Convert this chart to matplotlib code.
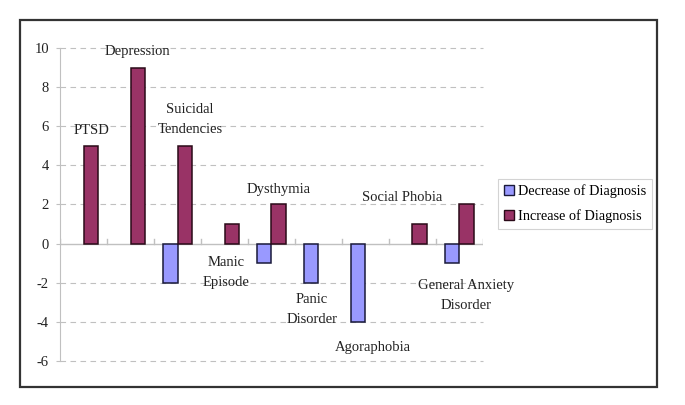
import matplotlib
matplotlib.use("Agg")
import matplotlib.pyplot as plt
from matplotlib.patches import Rectangle
from matplotlib.lines import Line2D
import numpy as np

plt.rcParams['font.family'] = ['Liberation Serif', 'DejaVu Serif']
plt.rcParams['axes.unicode_minus'] = False

# data
categories = ["PTSD", "Depression", "Suicidal\nTendencies", "Manic\nEpisode", "Dysthymia",
              "Panic\nDisorder", "Agoraphobia", "Social Phobia", "General Anxiety\nDisorder"]
decrease = [0, 0, -2, 0, -1, -2, -4, 0, -1]
increase = [5, 9, 5, 1, 2, 0, 0, 1, 2]
# where each category name sits (data coords)
label_x = [0.17, 1.14, 2.27, 3.03, 4.16, 4.86, 6.16, 6.78, 8.14]
label_y = [5.8, 9.8, 6.33, -1.48, 2.76, -3.37, -5.3, 2.35, -2.65]

dec_color = '#9999ff'
inc_color = '#993366'
grid_color = '#c0c0c0'

fig = plt.figure(figsize=(6.85, 4.05), dpi=100)
ax = fig.add_axes([0.0876, 0.1086, 0.6175, 0.773])

x = np.arange(len(categories))
w = 0.31
for i in x:
    if decrease[i] != 0:
        ax.bar(i - w / 2, decrease[i], w, color=dec_color, edgecolor='#1a1a3a', linewidth=1.1, zorder=3)
    if increase[i] != 0:
        ax.bar(i + w / 2, increase[i], w, color=inc_color, edgecolor='#2a0a18', linewidth=1.1, zorder=3)

for i, name in enumerate(categories):
    ax.text(label_x[i], label_y[i], name, ha='center', va='center', fontsize=10.5,
            color='#222222', linespacing=1.7, zorder=4)

ax.set_xlim(-0.5, len(categories) - 0.5)
ax.set_ylim(-6, 10)
ax.set_yticks(range(-6, 11, 2))
ax.set_xticks([])
for yv in range(-6, 11, 2):
    if yv != 0:
        ax.axhline(yv, color=grid_color, linestyle=(0, (5, 4)), linewidth=0.8, zorder=1, clip_on=False)
ax.axhline(0, color=grid_color, linewidth=1.0, zorder=2)
# little category ticks on the zero line
for b in np.arange(-0.5, len(categories), 1.0):
    ax.plot([b, b], [0, 0.25], color=grid_color, linewidth=1.0, zorder=2)

for s in ['top', 'right', 'bottom']:
    ax.spines[s].set_visible(False)
ax.spines['left'].set_color(grid_color)
ax.tick_params(axis='y', colors=grid_color, length=3, labelsize=10.5, labelcolor='#222222', pad=5)

# legend
handles = [Line2D([], [], marker='s', linestyle='none', markersize=6.5, markerfacecolor=dec_color,
                  markeredgecolor='#1a1a3a'),
           Line2D([], [], marker='s', linestyle='none', markersize=6.5, markerfacecolor=inc_color,
                  markeredgecolor='#2a0a18')]
leg = fig.legend(handles, ["Decrease of Diagnosis", "Increase of Diagnosis"],
                 loc='center left', bbox_to_anchor=(0.727, 0.497), fontsize=10.3,
                 frameon=True, fancybox=False, edgecolor='#c8c8c8', handlelength=0.7,
                 handletextpad=0.3, borderpad=0.4, labelspacing=0.75, borderaxespad=0)
leg.get_frame().set_linewidth(0.8)

# outer chart frame
fig.patches.append(Rectangle((0.0292, 0.0444), 0.93, 0.906, transform=fig.transFigure,
                             fill=False, edgecolor='#333333', linewidth=1.6))

fig.savefig('out.png', dpi=100)
